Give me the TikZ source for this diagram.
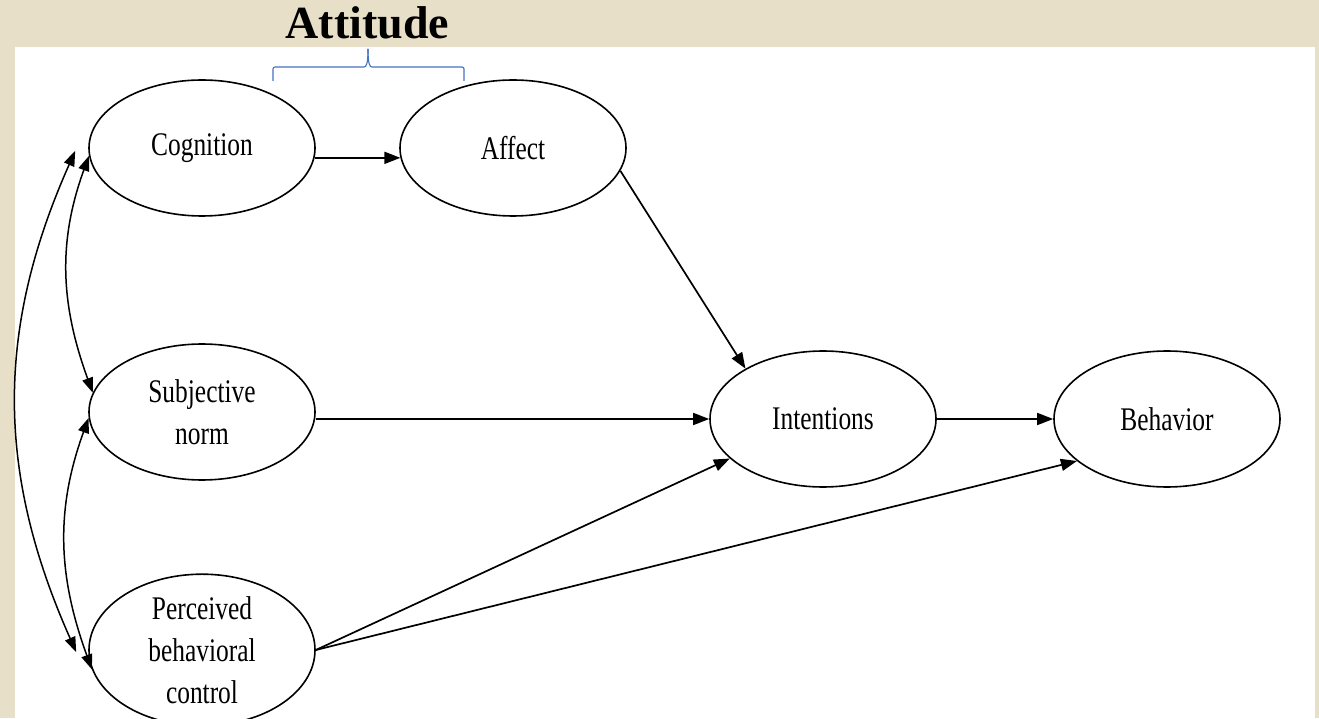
\documentclass[tikz,border=0pt]{standalone}
\usepackage{fontspec}
\setmainfont{Liberation Serif}
\newfontfamily\condfont[FakeStretch=0.77]{Liberation Serif}
\usetikzlibrary{shapes.geometric,arrows.meta}
\definecolor{beigebg}{RGB}{232,223,200}
\definecolor{braceblue}{RGB}{68,114,196}
\begin{document}
\begin{tikzpicture}[x=1pt,y=1pt,
  ell/.style={draw, line width=1.6pt, ellipse, minimum width=226pt, minimum height=136pt, inner sep=0pt, align=center, font=\condfont\fontsize{33}{42}\selectfont},
  arr/.style={line width=1.7pt, -{Triangle[length=16pt,width=12pt]}},
  darr/.style={line width=1.5pt, {Triangle[length=15pt,width=11pt]}-{Triangle[length=15pt,width=11pt]}},
  bracestyle/.style={draw=braceblue, line width=1.1pt}]
\useasboundingbox (0,0) rectangle (1319,718);
\fill[beigebg] (0,0) rectangle (1319,718);
\fill[white] (15,0) rectangle (1315,671);
\node[font=\bfseries\fontsize{46}{50}\selectfont, anchor=base, inner sep=0pt] (title) at (367.5,679) {Attitude};
\draw[bracestyle, rounded corners=2pt] (273,637) -- (273,651) -- (362,651) .. controls (366,651) and (368,653) .. (368,669);
\draw[bracestyle, rounded corners=2pt] (464,637) -- (464,651) -- (374,651) .. controls (370,651) and (368,653) .. (368,669);

\node[ell] (cog) at (202,570) {Cognition};
\node[ell] (aff) at (513,570) {Affect};
\node[ell] (sn) at (202,306) {Subjective\\norm};
\node[ell] (pbc) at (202,68) {Perceived\\behavioral\\control};
\node[ell] (int) at (823,299) {Intentions};
\node[ell] (beh) at (1167,299) {Behavior};

\draw[arr] (cog.-5) -- (aff.185);
\draw[arr] (aff.-12) -- (int.147);
\draw[arr] (sn.east |- int.west) -- (int.west);
\draw[arr] (int.east) -- (beh.west);
\draw[arr] (pbc.east) -- (int.203);
\draw[arr] (pbc.east) -- (beh.205);

\draw[darr] (cog.184) to[out=250,in=110] (sn.170);
\draw[darr] (sn.183) to[out=250,in=110] (pbc.190);
\draw[darr] ([shift={(-13pt,-3pt)}]cog.west) to[out=246,in=114] ([shift={(-12pt,-2pt)}]pbc.west);
\end{tikzpicture}
\end{document}
